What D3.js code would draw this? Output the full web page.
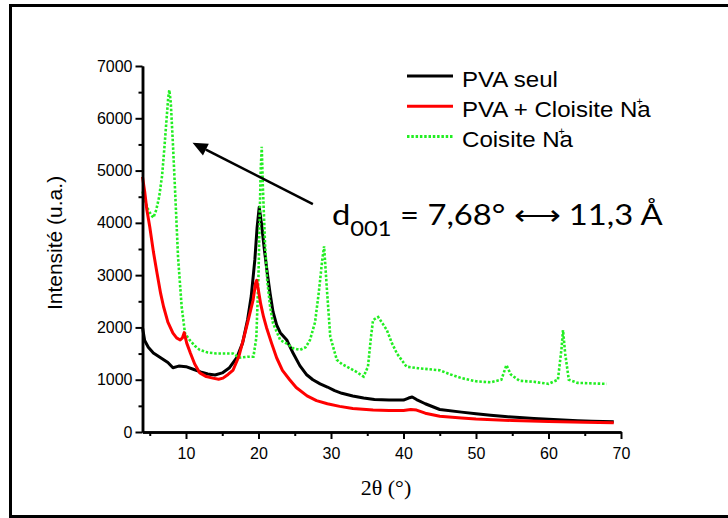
<!DOCTYPE html>
<html>
<head>
<meta charset="utf-8">
<script src="https://cdn.jsdelivr.net/npm/d3@7"></script>
<style>
    body { margin: 0; background: #fff; overflow: hidden; }
    svg { display: block; }
</style>
</head>
<body>
<svg id="chart" width="728" height="518"></svg>
<script>
// 2θ / intensity pairs
const pvaSeul = [
    [4.0, 2000], [4.3, 1750], [4.8, 1620], [5.5, 1510], [6.5, 1420], [7.5, 1330], [8.2, 1230],
    [9.0, 1260], [10.0, 1250], [11.0, 1200], [12.0, 1150], [13.0, 1110], [14.0, 1090], [15.0, 1130],
    [16.0, 1230], [17.0, 1420], [17.8, 1700], [18.5, 2150], [19.0, 2600], [19.5, 3300], [19.8, 3900],
    [20.1, 4300], [20.4, 4000], [20.8, 3500], [21.2, 3050], [21.6, 2650], [22.0, 2300], [22.5, 2050],
    [23.0, 1900], [23.9, 1760], [24.8, 1500], [25.7, 1270], [26.6, 1100], [27.5, 1000], [28.5, 920],
    [29.5, 860], [30.5, 790], [31.5, 740], [33.0, 690], [34.5, 650], [36.0, 620], [38.0, 610],
    [40.0, 610], [40.7, 650], [41.2, 670], [41.8, 620], [43.0, 540], [45.0, 430], [48.0, 380],
    [50.0, 350], [52.0, 320], [54.0, 295], [56.0, 275], [58.0, 260], [60.0, 245], [62.0, 230],
    [64.0, 215], [66.0, 205], [69.0, 195]
];

const pvaCloisite = [
    [4.0, 4880], [4.3, 4600], [4.6, 4250], [5.0, 3925], [5.5, 3450], [6.0, 3040], [6.5, 2650],
    [6.9, 2400], [7.5, 2100], [8.2, 1890], [8.7, 1800], [9.2, 1760], [9.5, 1800], [9.75, 1900],
    [10.1, 1700], [10.6, 1510], [11.2, 1300], [11.9, 1130], [12.8, 1060], [13.7, 1030], [14.5, 1010],
    [15.1, 1030], [15.8, 1100], [16.5, 1185], [17.3, 1450], [17.9, 1760], [18.6, 2150], [19.25, 2520],
    [19.6, 2850], [19.75, 2900], [20.0, 2700], [20.3, 2450], [20.7, 2200], [21.1, 2000], [21.8, 1700],
    [22.5, 1420], [23.3, 1180], [24.3, 1000], [25.2, 850], [26.7, 690], [28.0, 600], [29.5, 540],
    [31.2, 490], [33.0, 450], [35.8, 420], [38.0, 410], [40.0, 410], [41.0, 430], [41.8, 420],
    [43.0, 360], [45.0, 300], [48.0, 270], [50.0, 250], [55.0, 220], [60.0, 200], [65.0, 185],
    [69.0, 175]
];

const cloisiteNa = [
    [4.0, 4600], [4.4, 4400], [4.8, 4250], [5.2, 4150], [5.5, 4100], [5.9, 4250], [6.3, 4500],
    [6.7, 4900], [7.0, 5400], [7.3, 5950], [7.55, 6400], [7.7, 6540], [7.9, 6300], [8.2, 5500],
    [8.5, 4600], [8.9, 3350], [9.4, 2400], [9.86, 1890], [10.5, 1760], [11.2, 1650], [11.9, 1570],
    [13.0, 1520], [14.2, 1500], [15.5, 1500], [16.5, 1500], [17.4, 1420], [18.5, 1440], [19.3, 1440],
    [19.7, 1800], [20.0, 3000], [20.3, 5000], [20.45, 5455], [20.6, 4700], [20.9, 3600], [21.2, 2900],
    [21.6, 2400], [22.0, 2080], [23.0, 1760], [23.9, 1690], [24.8, 1600], [25.7, 1570], [26.5, 1620],
    [27.1, 1760], [27.8, 2100], [28.3, 2650], [28.8, 3300], [29.05, 3550], [29.4, 2800], [29.9, 1820],
    [30.8, 1380], [31.5, 1300], [32.2, 1250], [33.5, 1150], [34.5, 1060], [35.1, 1250], [35.5, 1800],
    [35.8, 2140], [36.5, 2200], [37.0, 2100], [37.7, 1950], [38.4, 1700], [39.1, 1500], [40.4, 1250],
    [42.0, 1220], [43.5, 1200], [45.0, 1180], [46.5, 1100], [48.0, 1030], [50.0, 970], [52.0, 950],
    [53.5, 1000], [54.2, 1280], [54.8, 1100], [56.0, 980], [58.0, 960], [60.0, 920], [61.3, 1000],
    [61.8, 1600], [62.0, 1950], [62.3, 1500], [62.8, 1000], [64.0, 940], [66.0, 930], [68.0, 920]
];

const xMajorTicks = [10, 20, 30, 40, 50, 60, 70];
const xMinorTicks = [5, 15, 25, 35, 45, 55, 65];
const yMajorTicks = [0, 1000, 2000, 3000, 4000, 5000, 6000, 7000];
const yMinorTicks = [500, 1500, 2500, 3500, 4500, 5500, 6500];

// arrow pointing at the d001 reflection (data coords)
const arrowFrom = [27.5, 4360];
const arrowTo = [10.9, 5530];

const svg = d3.select('#chart');

const x = d3.scaleLinear().domain([4, 70]).range([142.5, 621]);
const y = d3.scaleLinear().domain([0, 7000]).range([432, 66]);

// outer frame: left, top and bottom only, it runs off the right edge
svg.append('path')
    .attr('d', 'M728,5.5 H10.5 V516.5 H728')
    .attr('fill', 'none')
    .attr('stroke', '#000')
    .attr('stroke-width', 3);

const line = d3.line()
    .x((d) => x(d[0]))
    .y((d) => y(d[1]));

svg.append('path')
    .datum(pvaSeul)
    .attr('d', line)
    .attr('fill', 'none')
    .attr('stroke', '#000')
    .attr('stroke-width', 3)
    .attr('stroke-linejoin', 'round');

svg.append('path')
    .datum(cloisiteNa)
    .attr('d', line)
    .attr('fill', 'none')
    .attr('stroke', '#22ee22')
    .attr('stroke-width', 2.6)
    .attr('stroke-dasharray', '2.5,1.8');

svg.append('path')
    .datum(pvaCloisite)
    .attr('d', line)
    .attr('fill', 'none')
    .attr('stroke', '#ff0000')
    .attr('stroke-width', 3)
    .attr('stroke-linejoin', 'round');

// axes
const fontSans = '"Liberation Sans", Arial, sans-serif';

function styleAxis(g) {
    g.select('.domain').attr('stroke-width', 2.5);
    g.selectAll('.tick line').attr('stroke-width', 2);
    g.selectAll('.tick text')
        .style('font-family', fontSans)
        .style('font-size', '16px')
        .attr('fill', '#000');
}

svg.append('g')
    .attr('transform', 'translate(0, 432)')
    .call(d3.axisBottom(x).tickValues(xMinorTicks).tickSize(4).tickSizeOuter(0).tickFormat(''))
    .call(styleAxis);

svg.append('g')
    .attr('transform', 'translate(0, 432)')
    .call(d3.axisBottom(x).tickValues(xMajorTicks).tickSize(7).tickSizeOuter(0).tickPadding(9))
    .call(styleAxis);

svg.append('g')
    .attr('transform', 'translate(142.5, 0)')
    .call(d3.axisLeft(y).tickValues(yMinorTicks).tickSize(4).tickSizeOuter(0).tickFormat(''))
    .call(styleAxis);

svg.append('g')
    .attr('transform', 'translate(142.5, 0)')
    .call(d3.axisLeft(y).tickValues(yMajorTicks).tickSize(7).tickSizeOuter(0).tickPadding(3)
        .tickFormat(d3.format('d')))
    .call(styleAxis);

// axis titles
svg.append('text')
    .attr('transform', 'translate(62, 243) rotate(-90)')
    .attr('text-anchor', 'middle')
    .style('font-family', fontSans)
    .style('font-size', '21px')
    .text('Intensité (u.a.)');

svg.append('text')
    .attr('x', 386)
    .attr('y', 495)
    .attr('text-anchor', 'middle')
    .style('font-family', '"Liberation Serif", "Times New Roman", serif')
    .style('font-size', '22px')
    .text('2θ (°)');

// legend
const legendItems = [
    { label: 'PVA seul', ion: false, color: '#000', dash: null },
    { label: 'PVA + Cloisite N', ion: true, color: '#ff0000', dash: null },
    { label: 'Coisite N', ion: true, color: '#22ee22', dash: '2.5,1.8' },
];

const legend = svg.append('g').attr('class', 'legend');
legendItems.forEach((d, i) => {
    const ly = 76 + i * 30.3;
    legend.append('line')
        .attr('x1', 407)
        .attr('x2', 453)
        .attr('y1', ly)
        .attr('y2', ly)
        .attr('stroke', d.color)
        .attr('stroke-width', 3)
        .attr('stroke-dasharray', d.dash);

    // slightly wide lettering, as in the original
    const t = legend.append('text')
        .attr('transform', `translate(462, ${ ly + 10.5 }) scale(1.07, 1)`)
        .style('font-family', fontSans)
        .style('font-size', '22.5px')
        .text(d.label);
    if (d.ion) {
        t.append('tspan')
            .attr('dy', -12)
            .attr('dx', -1)
            .style('font-size', '10px')
            .text('+');
        t.append('tspan')
            .attr('dx', -5)
            .attr('dy', 12)
            .text('a');
    }
});

// annotation
const annot = svg.append('text')
    .attr('transform', 'translate(332, 225) scale(1.13, 1)')
    .style('font-family', 'Lato, "Open Sans", sans-serif')
    .style('font-size', '29px')
    .attr('fill', '#000');
annot.append('tspan').text('d');
annot.append('tspan')
    .attr('dy', 11)
    .style('font-size', '21px')
    .text('001');
annot.append('tspan')
    .attr('dy', -11)
    .text(' = 7,68° ⟷ 11,3 Å');

// arrow
const ax0 = x(arrowFrom[0]);
const ay0 = y(arrowFrom[1]);
const ax1 = x(arrowTo[0]);
const ay1 = y(arrowTo[1]);
const ang = Math.atan2(ay1 - ay0, ax1 - ax0);
const headLen = 15;
const headHalf = 6.5;
const bx = ax1 - headLen * Math.cos(ang);
const by = ay1 - headLen * Math.sin(ang);

svg.append('line')
    .attr('x1', ax0)
    .attr('y1', ay0)
    .attr('x2', bx)
    .attr('y2', by)
    .attr('stroke', '#000')
    .attr('stroke-width', 2.5);

svg.append('path')
    .attr('d', d3.line()([
        [ax1, ay1],
        [bx + headHalf * Math.sin(ang), by - headHalf * Math.cos(ang)],
        [bx - headHalf * Math.sin(ang), by + headHalf * Math.cos(ang)],
    ]) + 'Z')
    .attr('fill', '#000');
</script>
</body>
</html>
